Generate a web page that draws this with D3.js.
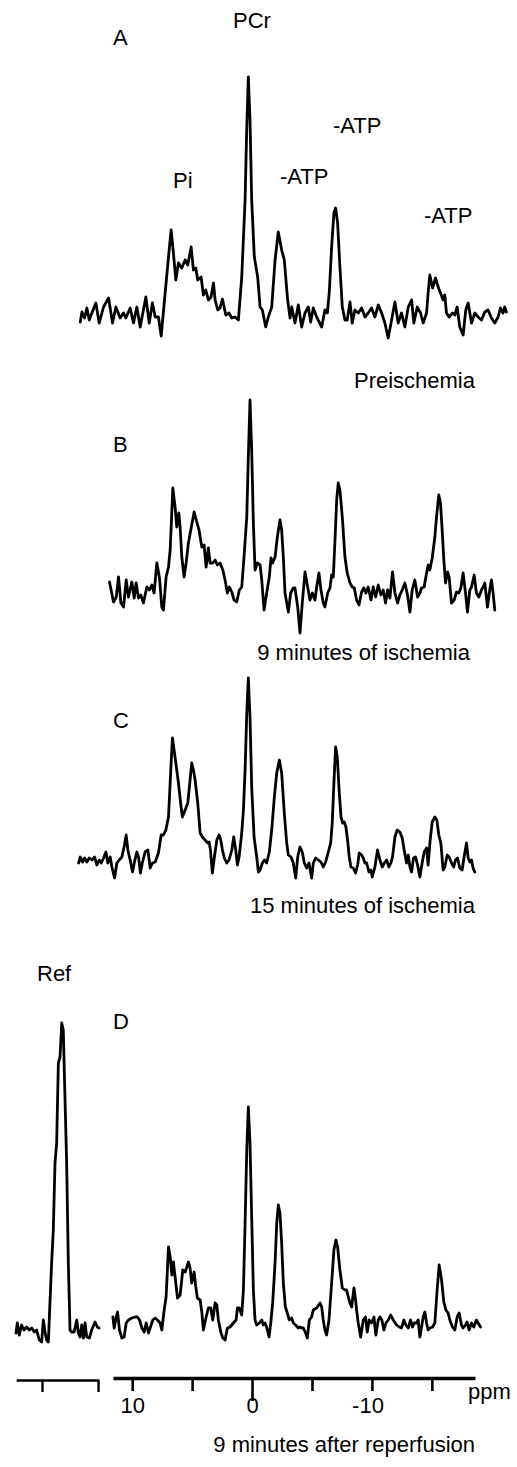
<!DOCTYPE html>
<html>
<head>
<meta charset="utf-8">
<script src="https://cdn.jsdelivr.net/npm/d3@7"></script>
<style>
  html, body { margin: 0; padding: 0; background: #fff; }
  svg { display: block; }
  text { font-family: "Liberation Sans", Arial, Helvetica, sans-serif; fill: #000; }
</style>
</head>
<body>
<script>
// ---------------- DATA ----------------
// 31P spectra: [chemical shift (ppm), intensity (a.u., baseline = 0)]
const specA = [[14.33,-5],[14.19,5],[13.97,-1],[13.78,9],[13.58,-3],[13.36,4],[13.03,14],[12.75,-6],[12.39,10],[11.97,19],[11.64,-6],[11.36,10],[11.0,-1],[10.72,4],[10.53,-1],[10.17,9],[9.89,-6],[9.61,10],[9.33,-10],[8.86,20],[8.58,-6],[8.31,14],[8.08,0],[7.81,0],[7.58,-19],[7.25,24],[6.97,60],[6.75,87],[6.56,64],[6.36,37],[6.14,54],[5.86,49],[5.58,57],[5.36,52],[5.08,70],[4.89,47],[4.69,49],[4.53,37],[4.25,40],[4.06,22],[3.86,27],[3.64,17],[3.42,20],[3.22,34],[3.08,17],[2.86,7],[2.67,9],[2.47,18],[2.19,2],[1.92,4],[1.69,-1],[1.42,0],[1.14,-3],[0.86,40],[0.58,117],[0.44,190],[0.31,240],[0.17,197],[0.03,117],[-0.19,60],[-0.47,40],[-0.67,10],[-0.86,7],[-1.14,-10],[-1.36,0],[-1.64,10],[-1.92,57],[-2.19,85],[-2.47,67],[-2.69,57],[-2.97,17],[-3.17,-1],[-3.31,10],[-3.58,-6],[-3.86,12],[-4.14,-10],[-4.42,4],[-4.69,10],[-4.89,-5],[-5.11,9],[-5.39,0],[-5.81,-10],[-6.08,7],[-6.28,4],[-6.44,24],[-6.64,70],[-6.83,104],[-6.97,109],[-7.14,94],[-7.33,50],[-7.53,10],[-7.75,-3],[-7.94,-3],[-8.17,15],[-8.36,-6],[-8.58,7],[-8.86,4],[-9.14,9],[-9.42,0],[-9.69,4],[-9.97,9],[-10.25,0],[-10.53,12],[-10.81,4],[-11.08,-6],[-11.36,-21],[-11.64,-3],[-11.92,15],[-12.19,-6],[-12.47,4],[-12.75,-10],[-13.03,10],[-13.31,17],[-13.5,-6],[-13.78,10],[-14.06,4],[-14.28,-6],[-14.56,4],[-14.69,24],[-14.83,42],[-15.06,29],[-15.31,39],[-15.53,30],[-15.72,24],[-15.94,17],[-16.08,22],[-16.22,4],[-16.44,0],[-16.72,4],[-16.92,2],[-17.11,10],[-17.33,-10],[-17.61,-18],[-17.83,7],[-18.03,14],[-18.31,-6],[-18.58,4],[-18.86,0],[-19.14,-3],[-19.42,5],[-19.69,7],[-19.97,-1],[-20.25,-6],[-20.53,0],[-20.72,9],[-20.94,4],[-21.08,10],[-21.22,5]];

const specB = [[11.89,13],[11.56,-7],[11.33,-2],[11.14,18],[10.94,-8],[10.72,-12],[10.5,15],[10.31,-2],[10.03,13],[9.83,-3],[9.67,12],[9.47,-3],[9.28,0],[9.06,-8],[8.78,8],[8.56,5],[8.36,10],[8.17,2],[7.94,32],[7.72,17],[7.53,-12],[7.39,-15],[7.17,18],[6.97,28],[6.83,45],[6.61,107],[6.42,88],[6.28,68],[6.11,82],[6.0,68],[5.86,38],[5.67,18],[5.5,32],[5.31,52],[5.11,65],[4.83,83],[4.61,73],[4.42,65],[4.19,48],[4.0,50],[3.83,28],[3.64,47],[3.5,32],[3.28,32],[3.08,35],[2.89,30],[2.67,32],[2.44,25],[2.25,15],[2.06,2],[1.89,8],[1.69,3],[1.5,-5],[1.28,-7],[1.06,5],[0.86,8],[0.67,38],[0.44,78],[0.31,138],[0.17,195],[0.03,145],[-0.11,72],[-0.25,25],[-0.44,32],[-0.67,30],[-0.81,15],[-1.0,-15],[-1.22,2],[-1.44,18],[-1.58,37],[-1.72,32],[-1.92,38],[-2.11,58],[-2.33,75],[-2.47,65],[-2.61,38],[-2.75,2],[-3.03,-17],[-3.22,2],[-3.44,7],[-3.58,7],[-3.81,-12],[-4.0,-38],[-4.19,-8],[-4.42,23],[-4.64,8],[-4.83,-5],[-5.03,2],[-5.25,-5],[-5.39,8],[-5.58,22],[-5.75,5],[-5.94,-8],[-6.08,-12],[-6.31,2],[-6.5,7],[-6.64,20],[-6.78,18],[-6.92,55],[-7.06,95],[-7.19,112],[-7.33,105],[-7.53,78],[-7.75,38],[-7.94,22],[-8.17,12],[-8.36,8],[-8.53,7],[-8.72,-5],[-8.92,-10],[-9.14,3],[-9.33,7],[-9.5,2],[-9.69,8],[-9.92,-5],[-10.11,8],[-10.31,-2],[-10.53,10],[-10.75,0],[-10.94,5],[-11.14,-8],[-11.31,5],[-11.5,-3],[-11.72,23],[-11.92,2],[-12.14,-8],[-12.33,0],[-12.53,5],[-12.75,12],[-12.97,0],[-13.17,-17],[-13.36,5],[-13.58,15],[-13.81,-2],[-14.0,2],[-14.14,7],[-14.36,8],[-14.5,18],[-14.69,30],[-14.83,25],[-15.03,37],[-15.25,58],[-15.39,78],[-15.58,100],[-15.72,92],[-15.86,65],[-16.0,35],[-16.14,12],[-16.31,23],[-16.44,18],[-16.64,-8],[-16.86,-5],[-17.06,3],[-17.25,2],[-17.42,7],[-17.61,22],[-17.81,2],[-17.97,-17],[-18.17,5],[-18.31,8],[-18.53,20],[-18.72,2],[-18.92,-2],[-19.14,5],[-19.28,8],[-19.42,12],[-19.64,-12],[-19.83,5],[-19.97,15],[-20.11,2],[-20.25,-15]];

const specC = [[14.47,1],[14.33,7],[14.14,2],[13.97,6],[13.78,2],[13.58,6],[13.36,4],[13.14,7],[12.94,-1],[12.75,4],[12.58,1],[12.39,6],[12.19,12],[12.03,1],[11.83,7],[11.69,-3],[11.47,-14],[11.28,1],[11.08,4],[10.86,7],[10.64,19],[10.5,29],[10.36,14],[10.17,4],[9.97,-8],[9.81,2],[9.61,12],[9.47,7],[9.31,-9],[9.14,2],[8.92,12],[8.69,14],[8.5,-4],[8.31,1],[8.08,2],[7.81,11],[7.58,29],[7.39,29],[7.19,34],[6.97,47],[6.78,94],[6.64,126],[6.47,111],[6.28,94],[6.14,81],[5.92,57],[5.81,47],[5.58,54],[5.36,61],[5.17,84],[5.03,101],[4.89,94],[4.75,84],[4.53,61],[4.33,31],[4.14,27],[3.92,24],[3.69,21],[3.58,22],[3.47,14],[3.31,-9],[3.14,7],[2.94,24],[2.75,29],[2.61,24],[2.47,14],[2.31,6],[2.11,1],[1.92,4],[1.69,14],[1.53,27],[1.36,14],[1.22,-1],[1.08,7],[0.86,31],[0.72,54],[0.58,94],[0.44,151],[0.31,186],[0.17,147],[0.03,77],[-0.17,27],[-0.39,7],[-0.53,-8],[-0.67,-6],[-0.86,1],[-1.03,4],[-1.22,1],[-1.44,12],[-1.64,34],[-1.86,67],[-2.06,91],[-2.28,104],[-2.47,91],[-2.69,51],[-2.75,42],[-2.89,21],[-3.03,9],[-3.25,7],[-3.44,1],[-3.64,-14],[-3.81,7],[-4.0,17],[-4.19,12],[-4.36,1],[-4.56,-4],[-4.75,1],[-4.97,-14],[-5.11,1],[-5.31,6],[-5.53,4],[-5.75,2],[-5.94,-3],[-6.14,2],[-6.36,12],[-6.56,21],[-6.69,41],[-6.83,81],[-6.97,117],[-7.11,107],[-7.28,71],[-7.42,47],[-7.56,41],[-7.69,42],[-7.83,37],[-7.97,24],[-8.11,7],[-8.25,-3],[-8.44,-4],[-8.64,-9],[-8.81,-1],[-8.94,11],[-9.14,9],[-9.28,6],[-9.42,1],[-9.56,1],[-9.75,-8],[-9.92,-6],[-10.03,-13],[-10.25,-3],[-10.47,14],[-10.67,4],[-10.86,-3],[-11.03,1],[-11.22,4],[-11.42,-3],[-11.58,1],[-11.72,7],[-11.92,27],[-12.11,34],[-12.33,32],[-12.53,26],[-12.69,14],[-12.89,1],[-13.03,9],[-13.17,-3],[-13.31,-8],[-13.47,6],[-13.64,7],[-13.81,-1],[-14.0,-13],[-14.19,1],[-14.36,12],[-14.56,16],[-14.69,-1],[-14.86,24],[-15.03,42],[-15.25,47],[-15.42,44],[-15.58,29],[-15.75,21],[-15.94,-6],[-16.08,-3],[-16.28,9],[-16.44,7],[-16.64,1],[-16.83,-3],[-16.97,4],[-17.14,6],[-17.33,-4],[-17.53,-6],[-17.69,7],[-17.89,21],[-18.03,6],[-18.17,2],[-18.31,4],[-18.44,-4],[-18.58,-8]];

const specD = [[11.61,3],[11.5,-8],[11.33,3],[11.22,8],[11.06,-10],[10.86,-18],[10.67,-17],[10.5,-3],[10.31,0],[10.03,2],[9.75,3],[9.56,3],[9.39,0],[9.19,-8],[9.0,-12],[8.83,-3],[8.64,-13],[8.5,-8],[8.28,0],[8.08,2],[7.89,0],[7.67,-3],[7.53,-10],[7.33,10],[7.17,23],[6.97,73],[6.83,63],[6.69,45],[6.56,58],[6.42,43],[6.22,22],[6.0,25],[5.78,50],[5.58,48],[5.44,53],[5.31,58],[5.17,52],[5.03,37],[4.83,48],[4.69,33],[4.56,22],[4.33,20],[4.19,8],[4.06,-10],[3.83,3],[3.64,12],[3.44,12],[3.28,0],[3.08,17],[2.94,15],[2.81,0],[2.61,-12],[2.44,-18],[2.25,-20],[2.06,-8],[1.83,-7],[1.56,-3],[1.33,0],[1.22,12],[1.06,12],[0.86,5],[0.72,30],[0.58,97],[0.44,170],[0.31,213],[0.17,177],[0.03,103],[-0.11,30],[-0.25,0],[-0.39,-5],[-0.61,-3],[-0.81,0],[-0.94,-5],[-1.08,-3],[-1.22,-7],[-1.42,-17],[-1.56,-3],[-1.72,17],[-1.92,57],[-2.06,97],[-2.19,115],[-2.33,107],[-2.47,77],[-2.61,37],[-2.78,13],[-2.94,7],[-3.11,0],[-3.31,2],[-3.44,-3],[-3.64,-5],[-3.86,-8],[-4.0,-7],[-4.14,-8],[-4.28,-8],[-4.47,-13],[-4.61,-18],[-4.78,0],[-4.97,3],[-5.11,10],[-5.39,12],[-5.67,17],[-5.81,13],[-5.94,0],[-6.08,-10],[-6.22,-15],[-6.42,0],[-6.64,37],[-6.83,70],[-7.0,80],[-7.14,73],[-7.33,50],[-7.53,32],[-7.75,30],[-7.89,30],[-8.03,23],[-8.17,17],[-8.31,13],[-8.5,32],[-8.64,20],[-8.72,10],[-8.86,-3],[-9.06,-17],[-9.28,0],[-9.47,3],[-9.61,-12],[-9.78,0],[-9.97,-3],[-10.17,3],[-10.33,-15],[-10.53,0],[-10.67,3],[-10.83,0],[-11.0,-10],[-11.17,-3],[-11.36,0],[-11.56,5],[-11.78,0],[-12.06,-5],[-12.28,-7],[-12.47,-8],[-12.67,0],[-12.83,-5],[-13.03,-8],[-13.22,0],[-13.39,-7],[-13.53,-3],[-13.72,-3],[-13.86,0],[-14.0,-17],[-14.14,-7],[-14.28,3],[-14.42,8],[-14.56,-3],[-14.69,-10],[-14.83,-8],[-15.06,-7],[-15.25,-3],[-15.44,30],[-15.61,55],[-15.81,40],[-16.0,18],[-16.17,10],[-16.36,7],[-16.5,0],[-16.72,-7],[-16.92,-10],[-17.11,3],[-17.28,7],[-17.47,-5],[-17.61,-8],[-17.81,-5],[-17.94,-2],[-18.11,-10],[-18.31,-3],[-18.5,-7],[-18.72,0],[-18.86,-3],[-19.06,-7]];

// Reference peak (relative shift, intensity)
const specRef = [[2.32,-3],[2.2,7],[2.02,-5],[1.82,5],[1.61,0],[1.37,3],[1.13,0],[0.92,2],[0.68,-2],[0.48,0],[0.24,-10],[0.03,-12],[-0.12,10],[-0.27,-2],[-0.42,-10],[-0.57,-12],[-0.71,27],[-0.86,67],[-1.01,100],[-1.16,167],[-1.31,187],[-1.46,267],[-1.61,273],[-1.76,307],[-1.9,300],[-2.05,233],[-2.2,167],[-2.35,67],[-2.5,0],[-2.65,-2],[-2.86,-2],[-3.1,10],[-3.24,-3],[-3.39,-7],[-3.54,5],[-3.69,-8],[-3.84,7],[-3.99,-7],[-4.23,-8],[-4.43,0],[-4.73,8],[-4.94,3],[-5.09,2]];

const panelLetters = ["A", "B", "C", "D"];
const conditions = ["Preischemia", "9 minutes of ischemia", "15 minutes of ischemia", "9 minutes after reperfusion"];
const peakNames = ["Pi", "PCr", "-ATP", "-ATP", "-ATP"];
const ppmTicks = [10, 5, 0, -5, -10, -15];
const ppmTickLabels = {"10": "10", "0": "0", "-10": "-10"};
const refTicks = [0, -5];
const refLabel = "Ref";
const unitLabel = "ppm";

// ---------------- LAYOUT ----------------
const W = 517, H = 1467;
const FONT = 22;
const STROKE = 2.8;
const svg = d3.select("body").append("svg").attr("width", W).attr("height", H);
svg.append("rect").attr("width", W).attr("height", H).attr("fill", "#fff");

const x = d3.scaleLinear().domain([11.6, -18.6]).range([113, 475]);
const xRef = d3.scaleLinear().domain([2.3, -5.05]).range([16.2, 98.6]);

const panels = [
  {data: specA, base: 317},
  {data: specB, base: 595},
  {data: specC, base: 864},
  {data: specD, base: 1320}
];

panels.forEach(p => {
  const y = d3.scaleLinear().domain([0, 100]).range([p.base, p.base - 100]);
  const line = d3.line().x(d => x(d[0])).y(d => y(d[1]));
  svg.append("path").datum(p.data).attr("d", line)
    .attr("fill", "none").attr("stroke", "#000").attr("stroke-width", STROKE)
    .attr("stroke-linejoin", "round").attr("stroke-linecap", "round");
});

// reference trace
{
  const yR = d3.scaleLinear().domain([0, 100]).range([1330, 1230]);
  const line = d3.line().x(d => xRef(d[0])).y(d => yR(d[1]));
  svg.append("path").datum(specRef).attr("d", line)
    .attr("fill", "none").attr("stroke", "#000").attr("stroke-width", STROKE)
    .attr("stroke-linejoin", "round").attr("stroke-linecap", "round");
}

function label(txt, px, py, anchor) {
  svg.append("text").attr("x", px).attr("y", py)
    .attr("text-anchor", anchor || "start")
    .attr("font-size", FONT).text(txt);
}

// panel letters
const letterY = [45, 452, 728, 1029];
panelLetters.forEach((l, i) => label(l, 113, letterY[i]));

// peak labels (panel A)
label(peakNames[0], 173, 188);
label(peakNames[1], 252, 28, "middle");
label(peakNames[2], 280, 184);
label(peakNames[3], 333, 133);
label(peakNames[4], 424, 223);

// condition captions
const condY = [388, 660, 913, 1452];
conditions.forEach((c, i) => label(c, i === 1 ? 470 : 475, condY[i], "end"));

label(refLabel, 37, 981);

// main ppm axis
const axisY = 1378;
const ax = d3.axisBottom(x).tickValues(ppmTicks)
  .tickFormat(d => ppmTickLabels[String(d)] || "")
  .tickSize(13).tickSizeOuter(0).tickPadding(6);
const gAx = svg.append("g").attr("transform", `translate(0,${axisY})`).call(ax);
gAx.select(".domain").attr("stroke", "#000").attr("stroke-width", 3.5);
gAx.selectAll(".tick line").attr("stroke", "#000").attr("stroke-width", 2.6)
  .attr("y2", d => d === 0 ? 23 : 13);
gAx.selectAll(".tick text").attr("font-size", FONT)
  .attr("font-family", '"Liberation Sans", Arial, sans-serif').attr("fill", "#000")
  .attr("dx", d => d < 0 ? "-0.2em" : 0);
label(unitLabel, 468, 1399);

// reference axis
const axR = d3.axisBottom(xRef).tickValues(refTicks).tickFormat("")
  .tickSize(12).tickSizeOuter(0);
const gR = svg.append("g").attr("transform", `translate(0,1380)`).call(axR);
gR.select(".domain").attr("stroke", "#000").attr("stroke-width", 2.4);
gR.selectAll(".tick line").attr("stroke", "#000").attr("stroke-width", 2.4);
</script>
</body>
</html>
